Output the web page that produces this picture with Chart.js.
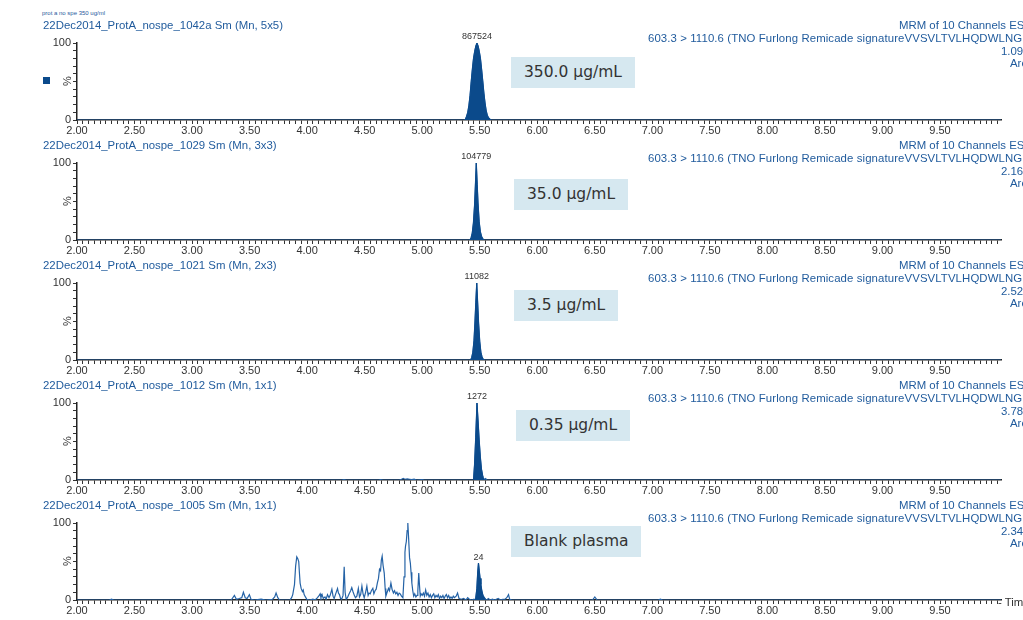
<!DOCTYPE html>
<html>
<head>
<meta charset="utf-8">
<script src="https://cdn.jsdelivr.net/npm/chart.js@4"></script>
<style>
  html, body { margin: 0; padding: 0; background: #fff; }
  body { width: 1023px; height: 620px; overflow: hidden; position: relative; font-family: "Liberation Sans", Arial, sans-serif; }
  canvas { position: absolute; left: 0; }
  .t { position: absolute; white-space: nowrap; font-size: 11.4px; line-height: 14px; color: #1f5a9c; }
  .wide { letter-spacing: 0.1px; }
  .small { position: absolute; white-space: nowrap; font-size: 6px; line-height: 8px; color: #1f5a9c; }
  .box { position: absolute; height: 31px; line-height: 31px; padding: 0 13px; background: #d6e8f0; color: #333; font-family: "DejaVu Sans", sans-serif; font-size: 15.5px; white-space: nowrap; }
  .pct { position: absolute; font-size: 11px; color: #333; transform: rotate(-90deg); transform-origin: center; width: 12px; text-align: center; line-height: 12px; }
  .sq { position: absolute; width: 7px; height: 7px; background: #0b4a8b; }
</style>
</head>
<body>
<script>
// ---------- data ----------
const panelTitles = [
  "22Dec2014_ProtA_nospe_1042a Sm (Mn, 5x5)",
  "22Dec2014_ProtA_nospe_1029 Sm (Mn, 3x3)",
  "22Dec2014_ProtA_nospe_1021 Sm (Mn, 2x3)",
  "22Dec2014_ProtA_nospe_1012 Sm (Mn, 1x1)",
  "22Dec2014_ProtA_nospe_1005 Sm (Mn, 1x1)"
];
const headerLine1 = "MRM of 10 Channels ES+";
const headerLine2 = "603.3 > 1110.6 (TNO Furlong Remicade signatureVVSVLTVLHQDWLNGK)";
const intensities = ["1.09e6", "2.16e5", "2.52e4", "3.78e3", "2.34e1"];
const concLabels = ["350.0 \u03bcg/mL", "35.0 \u03bcg/mL", "3.5 \u03bcg/mL", "0.35 \u03bcg/mL", "Blank plasma"];
const peakAreas = ["867524", "104779", "11082", "1272", "24"];
const xTickLabels = ["2.00","2.50","3.00","3.50","4.00","4.50","5.00","5.50","6.00","6.50","7.00","7.50","8.00","8.50","9.00","9.50"];
const yTickLabels = ["0", "100"];

// peak (filled) regions
const p1PeakT = [5.370,5.376,5.386,5.396,5.406,5.416,5.426,5.436,5.446,5.456,5.466,5.476,5.486,5.496,5.506,5.516,5.526,5.536,5.546,5.556,5.566,5.576,5.590,5.600];
const p1PeakV = [0,1,5,10,19,32,50,66,80,89,96,100,96,89,80,66,51,35,22,12,6,3,1,0];
const p2PeakT = [5.415,5.425,5.435,5.445,5.455,5.462,5.470,5.478,5.485,5.495,5.505,5.515,5.525,5.535];
const p2PeakV = [0,3,9,22,45,70,100,72,48,24,11,5,2,0];
const p3PeakT = [5.420,5.430,5.440,5.450,5.458,5.466,5.474,5.482,5.490,5.500,5.510,5.520,5.530,5.540];
const p3PeakV = [0,3,10,25,48,75,100,74,48,24,10,4,1,0];
const p4PeakT = [5.446,5.455,5.465,5.476,5.485,5.495,5.505,5.515,5.525,5.530,5.540];
const p4PeakV = [0,20,55,100,78,52,30,14,6,3,0];
const p5PeakT = [5.458,5.465,5.475,5.482,5.489,5.496,5.503,5.510,5.518,5.528,5.540,5.550];
const p5PeakV = [0,2,15,35,48,38,28,20,12,6,3,1];

// background trace (outside the filled peak)
const p1TraceT = [2.00, 10.03];
const p1TraceV = [0, 0];
const p2TraceT = [2.00, 10.03];
const p2TraceV = [0, 0];
const p3TraceT = [2.00, 10.03];
const p3TraceV = [0, 0];
const p4TraceT = [2.00,4.30,4.32,4.34,4.62,4.64,4.66,4.80,4.82,4.835,4.85,4.87,4.89,4.91,4.93,4.95,5.00,5.02,5.545,5.552,5.56,10.03];
const p4TraceV = [0,0,0.6,0,0,0.6,0,0,1,2,1,1.5,1,0.5,1,0,0.6,0,1.5,2,0,0];
const p5TraceT = [2.00,2.28,2.30,2.32,3.34,3.368,3.385,3.41,3.432,3.446,3.462,3.478,3.498,3.512,3.54,3.60,3.64,3.70,3.718,3.730,3.745,3.76,
  3.85,3.865,3.875,3.89,3.90,3.910,3.918,3.927,3.933,3.939,3.948,3.959,3.966,3.974,3.985,3.997,4.02,4.05,4.07,4.09,4.105,4.113,4.12,4.130,
  4.14,4.155,4.165,4.177,4.19,4.20,4.215,4.225,4.235,4.248,4.264,4.272,4.281,4.29,4.30,4.312,4.322,4.330,4.339,4.35,4.365,4.378,4.388,
  4.398,4.41,4.42,4.432,4.445,4.455,4.465,4.476,4.486,4.496,4.508,4.519,4.53,4.538,4.548,4.558,4.571,4.58,4.59,4.60,4.61,4.62,4.629,
  4.638,4.645,4.652,4.66,4.67,4.678,4.684,4.695,4.707,4.716,4.728,4.738,4.75,4.76,4.77,4.78,4.79,4.80,4.809,4.82,4.832,4.842,4.850,
  4.855,4.862,4.869,4.875,4.882,4.89,4.897,4.903,4.91,4.918,4.926,4.935,4.945,4.955,4.962,4.970,4.976,4.983,4.99,5.00,5.01,5.02,5.03,
  5.04,5.05,5.06,5.07,5.08,5.09,5.10,5.11,5.12,5.13,5.14,5.15,5.16,5.17,5.18,5.19,5.20,5.21,5.22,5.23,5.24,5.25,5.26,5.27,5.28,5.295,
  5.307,5.32,5.34,5.36,5.38,5.395,5.41,5.43,5.45,5.56,5.575,5.59,5.61,5.63,5.66,5.68,5.70,5.72,5.735,5.75,5.76,5.78,6.48,6.50,6.52,
  7.05,7.07,7.09,10.03];
const p5TraceV = [0,0,1,0,0,6,1,2,3,10,3,2,7,1,0,1,0,1,4,9,3,0,
  0,3,7,20,44,56,54,50,35,22,15,11,13,7,4,1,0,1,0,3,6,8,3,7,
  2,4,1,7,3,6,14,5,2,8,15,9,7,2,1,6,43,10,1,3,8,12,16,
  11,6,3,5,15,4,7,18,8,3,10,18,6,9,8,12,15,8,12,14,22,28,40,
  38,52,57,45,35,15,5,10,15,12,22,14,9,12,8,10,6,9,8,5,3,30,62,
  70,76,90,100,80,55,48,36,22,12,5,8,4,6,12,35,20,5,8,6,9,5,13,
  6,9,4,7,3,6,8,3,6,4,7,2,5,3,6,2,5,7,3,6,2,4,2,5,3,5,
  9,2,1,2,0,3,1,0,1,0,2,0,1,0,2,0,1,1,3,7,1,0,0,4,0,
  0,1,0,0];

const peakT = [p1PeakT, p2PeakT, p3PeakT, p4PeakT, p5PeakT];
const peakV = [p1PeakV, p2PeakV, p3PeakV, p4PeakV, p5PeakV];
const traceT = [p1TraceT, p2TraceT, p3TraceT, p4TraceT, p5TraceT];
const traceV = [p1TraceV, p2TraceV, p3TraceV, p4TraceV, p5TraceV];

const boxPos = [[511,57],[514,179],[514,290],[516,410],[511,526]];

// ---------- helpers ----------
function pts(ts, vs) { return ts.map((t, i) => ({ x: t, y: vs[i] })); }
function merged(i) {
  return pts(traceT[i], traceV[i]).concat(pts(peakT[i], peakV[i])).sort((a, b) => a.x - b.x);
}
function addDiv(cls, text, left, top, extra) {
  const d = document.createElement('div');
  d.className = cls; d.textContent = text;
  d.style.left = left + 'px'; d.style.top = top + 'px';
  if (extra) Object.assign(d.style, extra);
  document.body.appendChild(d);
  return d;
}

Chart.defaults.font.family = '"Liberation Sans", Arial, sans-serif';
Chart.defaults.color = '#333';

const peakLabelPlugin = {
  id: 'peakLabel',
  afterDatasetsDraw(chart, args, opts) {
    const meta = chart.getDatasetMeta(0);
    let best = null;
    meta.data.forEach(el => { if (!best || el.y < best.y) best = el; });
    if (!best) return;
    const ctx = chart.ctx;
    ctx.save();
    ctx.font = '9px "Liberation Sans", Arial, sans-serif';
    ctx.fillStyle = '#333';
    ctx.textAlign = 'center';
    ctx.textBaseline = 'middle';
    ctx.fillText(opts.text, best.x, best.y - 6);
    ctx.restore();
  }
};

addDiv('small', 'prot a no spe 350 ug/ml', 42, 9);
addDiv('sq', '', 43, 77);

for (let i = 0; i < 5; i++) {
  const off = 120 * i;
  addDiv('t', panelTitles[i], 43, 18 + off);
  addDiv('t', headerLine1, 899, 18 + off);
  addDiv('t wide', headerLine2, 648, 31 + off);
  addDiv('t', intensities[i], 1001, 44 + off);
  addDiv('t', 'Area', 1010, 56 + off);
  addDiv('pct', '%', 61, 75 + off);
  addDiv('box', concLabels[i], boxPos[i][0], boxPos[i][1]);

  const c = document.createElement('canvas');
  c.width = 1023; c.height = 110;
  c.style.top = (30 + off) + 'px';
  c.style.width = '1023px'; c.style.height = '110px';
  document.body.insertBefore(c, document.body.firstChild);

  new Chart(c.getContext('2d'), {
    type: 'line',
    data: {
      datasets: [
        { data: pts(peakT[i], peakV[i]), borderColor: '#0b4a8b', backgroundColor: '#0b4a8b', borderWidth: 1, fill: 'origin', pointRadius: 0, tension: 0 },
        { data: merged(i), borderColor: '#2563a6', borderWidth: 1.2, fill: false, pointRadius: 0, tension: 0 }
      ]
    },
    options: {
      responsive: false, animation: false, devicePixelRatio: 1,
      layout: { padding: { left: 37, right: 22, top: 13, bottom: 0 } },
      plugins: { legend: { display: false }, tooltip: { enabled: false }, peakLabel: { text: peakAreas[i] } },
      scales: {
        x: {
          type: 'linear', min: 2.0, max: 10.03,
          border: { color: '#222', width: 1.5 },
          grid: { drawOnChartArea: false, tickLength: 4, color: '#333', tickWidth: 1 },
          ticks: {
            stepSize: 0.05, autoSkip: false, maxRotation: 0, minRotation: 0, includeBounds: false, padding: 0,
            font: { size: 11 }, color: '#333',
            callback: (v) => {
              const r = Math.round(v * 2);
              if (Math.abs(v * 2 - r) > 1e-6) return '';
              const lbl = (r / 2).toFixed(2);
              return xTickLabels.includes(lbl) ? lbl : '';
            }
          },
          afterFit: (s) => { s.height = 20; }
        },
        y: {
          min: 0, max: 100,
          border: { color: '#222', width: 1.5 },
          grid: { drawOnChartArea: false, tickLength: 4, color: '#333' },
          ticks: { stepSize: 10, autoSkip: false, font: { size: 11 }, color: '#333', padding: 2,
            callback: (v) => yTickLabels.includes(String(v)) ? String(v) : '' },
          afterFit: (s) => { s.width = 40; }
        }
      }
    },
    plugins: [peakLabelPlugin]
  });
}
addDiv('t', '- Time', 998, 595, { color: '#333' });
</script>
</body>
</html>
